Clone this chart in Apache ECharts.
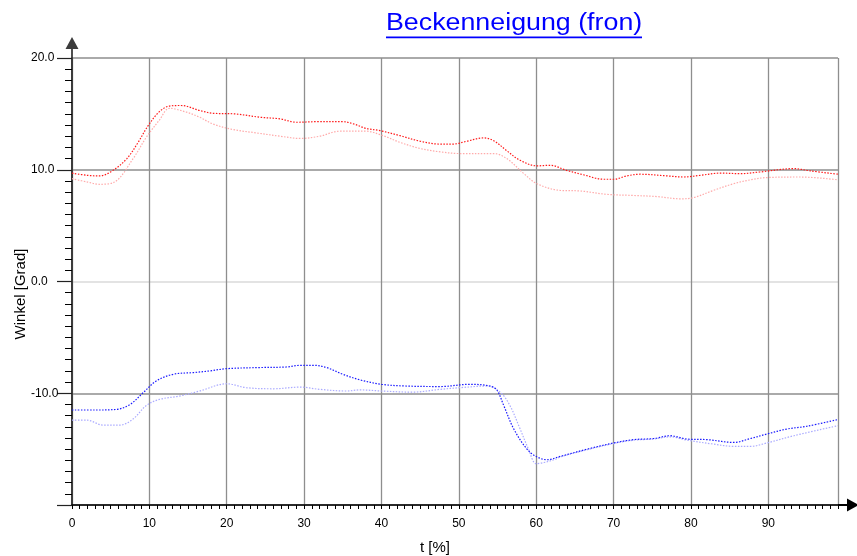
<!DOCTYPE html>
<html>
<head>
<meta charset="utf-8">
<title>Beckenneigung (fron)</title>
<script src="https://cdn.jsdelivr.net/npm/echarts@6/dist/echarts.min.js"></script>
<style>
  html, body { margin: 0; padding: 0; background: #ffffff; }
  #chart { width: 857px; height: 556px; }
</style>
</head>
<body>
<div id="chart"></div>
<script>
// Texts
const titleText = 'Beckenneigung (fron)';
const xAxisName = 't [%]';
const yAxisName = 'Winkel [Grad]';

// Axis ranges
const xMin = 0, xMax = 99, xStep = 10;
const yMin = -20, yMax = 20, yStep = 10;

// Pelvic tilt curves: [t in %, angle in degrees]
const redUpper = [
  [0, 9.7], [2, 9.5], [3.6, 9.45], [5.3, 9.95], [7.1, 11.0], [8.5, 12.4], [9.8, 13.9],
  [11.3, 15.2], [12.6, 15.7], [14.1, 15.75], [16.5, 15.3], [18.3, 15.05], [21, 15.0],
  [24.3, 14.7], [26.9, 14.55], [29, 14.25], [31.6, 14.3], [35, 14.3], [36.4, 14.1],
  [38, 13.7], [39.8, 13.5], [42.4, 13.05], [45, 12.55], [47.5, 12.3], [49.3, 12.3],
  [51, 12.55], [53.2, 12.85], [54.5, 12.6], [56.2, 11.7], [57.9, 10.85], [60.1, 10.35],
  [61.8, 10.4], [63.9, 9.95], [66.1, 9.55], [68.7, 9.15], [70, 9.15], [71.7, 9.45],
  [73.4, 9.6], [76.9, 9.45], [79, 9.35], [81.2, 9.5], [83.8, 9.7], [86.4, 9.65],
  [88.9, 9.8], [93.3, 10.1], [95.4, 9.9], [99, 9.6]
];
const redLower = [
  [0, 9.2], [2, 8.9], [3.6, 8.7], [5.5, 8.9], [7.9, 11.0], [9.6, 12.9], [11.3, 14.45],
  [12.6, 15.5], [14.8, 15.15], [16.5, 14.7], [18.2, 14.1], [20.8, 13.6], [23.8, 13.3],
  [26.9, 13.0], [29.5, 12.8], [32, 13.0], [34.6, 13.45], [38, 13.45], [40.2, 13.05],
  [42.4, 12.45], [45, 11.9], [47.6, 11.6], [50.2, 11.45], [54.5, 11.45], [56.2, 11.0],
  [58.4, 9.65], [60.1, 8.75], [63.1, 8.15], [65.7, 8.1], [69.1, 7.8], [72.6, 7.7],
  [75.6, 7.6], [78.6, 7.4], [80.3, 7.5], [82.9, 8.15], [85.5, 8.75], [87.7, 9.1],
  [89.8, 9.3], [94.1, 9.35], [99, 9.1]
];
const blueUpper = [
  [0, -11.5], [3, -11.5], [5.7, -11.45], [7.5, -11.0], [9.2, -9.95], [10.9, -8.9],
  [13.1, -8.3], [15.7, -8.15], [17.8, -8.0], [20, -7.8], [24.3, -7.7], [27.7, -7.65],
  [29.5, -7.5], [31.2, -7.5], [32.9, -7.7], [35, -8.3], [37.2, -8.8], [40, -9.2],
  [43, -9.35], [47.6, -9.4], [51.4, -9.2], [54, -9.35], [54.9, -9.7], [55.8, -11.1],
  [57.1, -13.2], [58.8, -15.0], [60.1, -15.7], [61.4, -15.95], [63.1, -15.65],
  [66.6, -15.0], [70, -14.45], [72.6, -14.15], [75.2, -14.05], [77.3, -13.8],
  [79.5, -14.1], [82.1, -14.15], [85.5, -14.4], [87.7, -14.05], [89.8, -13.65],
  [92.4, -13.2], [95, -12.95], [99, -12.35]
];
const blueLower = [
  [0, -12.4], [1.9, -12.4], [4, -12.85], [6.2, -12.85], [7.9, -12.3], [9.6, -11.1],
  [11.3, -10.55], [13.9, -10.25], [16.5, -9.8], [20, -9.15], [22.5, -9.5], [26, -9.6],
  [29.5, -9.45], [32, -9.65], [35.5, -9.8], [37.2, -9.7], [40, -9.8], [44, -9.9],
  [47.6, -9.65], [50.2, -9.5], [53.7, -9.35], [55.4, -9.95], [56.6, -11.1], [57.8, -13.0],
  [59, -15.0], [60, -16.3], [61, -16.2], [62.5, -15.9], [63.1, -15.7], [66.6, -15.05],
  [70, -14.5], [72.6, -14.2], [75.2, -14.1], [77.3, -13.9], [79.5, -14.2], [82.9, -14.55],
  [85.5, -14.75], [87.7, -14.75], [89.8, -14.45], [93.3, -13.8], [99, -12.9]
];

const FONT = '"Liberation Sans", Arial, Helvetica, sans-serif';

// Filled arrow head with a short stem, used at the open ends of both axes
const axisArrow = 'path://M6.5,0 L13,12 L7.4,12 L7.4,21 L5.6,21 L5.6,12 L0,12 Z';

// Horizontal grid: the zero line is drawn lighter than the others
const yTickValues = [];
for (let v = yMin; v <= yMax; v += yStep) yTickValues.push(v);
const yGridColors = yTickValues.map(v => (v === 0 ? '#dadada' : '#8e8e8e'));

function dottedSeries(name, data, color, z) {
  return {
    name: name,
    type: 'line',
    data: data,
    smooth: 0.35,
    showSymbol: false,
    z: z,
    lineStyle: { color: color, width: 1.2, type: [1.5, 1.5] }
  };
}

const chart = echarts.init(document.getElementById('chart'), null, { renderer: 'canvas' });

chart.setOption({
  animation: false,
  backgroundColor: '#ffffff',
  grid: { left: 72, right: 19, top: 58, bottom: 51, containLabel: false, outerBoundsMode: 'none' },
  graphic: [
    {
      type: 'group',
      left: 386,
      top: 12,
      children: [
        {
          type: 'text',
          x: 0, y: 0,
          scaleX: 1.165,
          style: {
            text: titleText,
            fill: '#0000ff',
            font: '23px ' + FONT,
            textVerticalAlign: 'top'
          }
        },
        {
          type: 'rect',
          shape: { x: 0, y: 24.5, width: 256, height: 1.8 },
          style: { fill: '#0000ff' }
        }
      ]
    }
  ],
  xAxis: {
    type: 'value',
    min: xMin,
    max: xMax,
    interval: xStep,
    name: xAxisName,
    nameLocation: 'middle',
    nameGap: 35,
    nameMoveOverlap: false,
    nameTextStyle: { fontFamily: FONT, fontSize: 15, color: '#000', padding: [0, 40, 0, 0] },
    axisLine: {
      onZero: false,
      symbol: ['none', axisArrow],
      symbolSize: [13, 21],
      symbolOffset: [0, 10.5],
      lineStyle: { color: '#000', width: 1.5 }
    },
    axisTick: { show: true, inside: false, length: 4, lineStyle: { color: '#000', width: 1 } },
    minorTick: { show: true, splitNumber: 10, length: 4, lineStyle: { color: '#000', width: 1 } },
    axisLabel: {
      margin: 13,
      fontFamily: FONT,
      fontSize: 12,
      color: '#000',
      formatter: v => (v === xMax ? '' : String(v))
    },
    splitLine: { show: true, lineStyle: { color: '#8e8e8e', width: 1.3 } },
    minorSplitLine: { show: false }
  },
  yAxis: {
    type: 'value',
    min: yMin,
    max: yMax,
    interval: yStep,
    name: yAxisName,
    nameLocation: 'middle',
    nameGap: 44,
    nameMoveOverlap: false,
    nameTextStyle: { fontFamily: FONT, fontSize: 15, color: '#000', padding: [0, 25, 0, 0] },
    axisLine: {
      onZero: false,
      symbol: ['none', axisArrow],
      symbolSize: [13, 21],
      symbolOffset: [0, 10.5],
      lineStyle: { color: '#3c3c3c', width: 2 }
    },
    axisTick: { show: true, inside: false, length: 15, lineStyle: { color: '#222', width: 1.2 } },
    minorTick: { show: true, splitNumber: 10, length: 7, lineStyle: { color: '#000', width: 1 } },
    axisLabel: {
      margin: 41,
      align: 'left',
      fontFamily: FONT,
      fontSize: 12,
      color: '#000',
      formatter: v => (v === yMin ? '' : v.toFixed(1))
    },
    splitLine: { show: true, lineStyle: { color: yGridColors, width: 1.5 } },
    minorSplitLine: { show: false }
  },
  series: [
    dottedSeries('Rechts hell', redLower, '#ffaaaa', 2),
    dottedSeries('Rechts', redUpper, '#ff1a1a', 3),
    dottedSeries('Links hell', blueLower, '#aaaaff', 2),
    dottedSeries('Links', blueUpper, '#1a1aff', 3)
  ]
});
</script>
</body>
</html>
